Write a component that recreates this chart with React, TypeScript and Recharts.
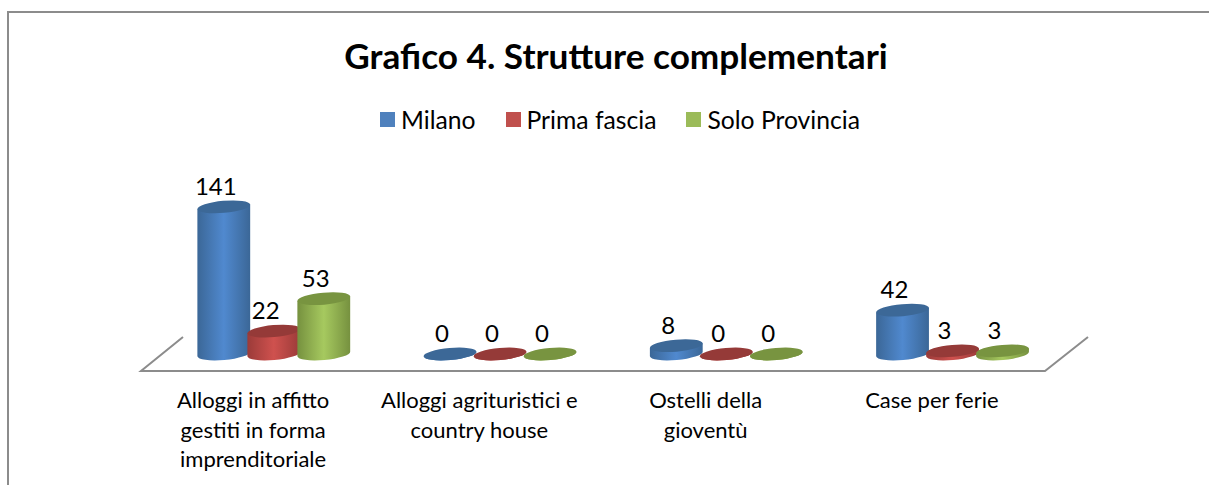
import { Bar, BarChart, LabelList, Legend, XAxis, YAxis } from 'recharts'

const categories = [
  ['Alloggi in affitto', 'gestiti in forma', 'imprenditoriale'],
  ['Alloggi agrituristici e', 'country house'],
  ['Ostelli della', 'gioventù'],
  ['Case per ferie'],
]
const milano = [141, 0, 8, 42]
const primaFascia = [22, 0, 0, 3]
const soloProvincia = [53, 0, 0, 3]

const palette: Record<string, { edge: string; mid: string; top: string; rim: string }> = {
  milano: { edge: '#3b6797', mid: '#5089cf', top: '#3c6897', rim: '#4f81bd' },
  prima: { edge: '#9b3b39', mid: '#cf514e', top: '#953a38', rim: '#c0504d' },
  solo: { edge: '#76913f', mid: '#a6c95f', top: '#789440', rim: '#9bbb59' },
}

const data = categories.map((lines, i) => ({
  name: lines.join(' '),
  milano: milano[i],
  prima: primaFascia[i],
  solo: soloProvincia[i],
}))

const FONT = 'Lato, sans-serif'
const TILT = -5

function cylinder(key: string) {
  return (props: any) => {
    const { x, y, width, height } = props
    const c = palette[key]
    const cx = x + width / 2
    const rx = width / 2 + 1.5
    const ry = 6
    const dy = rx * Math.sin((TILT * Math.PI) / 180)
    const dx = rx * Math.cos((TILT * Math.PI) / 180)
    const bottom = y + height
    const body =
      `M${cx - dx} ${y - dy} L${cx - dx} ${bottom - dy} ` +
      `A${rx} ${ry} ${TILT} 0 0 ${cx + dx} ${bottom + dy} L${cx + dx} ${y + dy} Z`
    return (
      <g>
        <path d={body} fill={`url(#grad-${key})`} />
        <ellipse cx={cx} cy={y} rx={rx} ry={ry} fill={c.top} transform={`rotate(${TILT} ${cx} ${y})`} />
      </g>
    )
  }
}

function ValueLabel(props: any) {
  const { x, y, width, value } = props
  return (
    <text x={x + width / 2 - 8} y={y - 12} textAnchor="middle" fontFamily={FONT} fontSize={24} fill="#000">
      {value}
    </text>
  )
}

function CategoryTick(props: any) {
  const { x, y, index } = props
  return (
    <text textAnchor="middle" fontFamily={FONT} fontSize={22} fill="#000">
      {categories[index].map((line, i) => (
        <tspan key={line} x={x - 21} y={y + 46 + i * 29.5}>
          {line}
        </tspan>
      ))}
    </text>
  )
}

function LegendRow(props: any) {
  return (
    <div style={{ display: 'flex', justifyContent: 'center', gap: 30, fontFamily: FONT, fontSize: 24.7 }}>
      {props.payload.map((item: any) => (
        <span key={item.value} style={{ display: 'flex', alignItems: 'center', gap: 6, color: '#000' }}>
          <span style={{ width: 15, height: 15, flexShrink: 0, background: palette[item.dataKey].rim }} />
          {item.value}
        </span>
      ))}
    </div>
  )
}

export default function App() {
  return (
    <div style={{ position: 'absolute', left: 0, top: 0, width: 1209, height: 485, background: '#fff' }}>
      <div
        style={{
          position: 'absolute',
          left: 7,
          top: 11,
          right: 0,
          bottom: 0,
          borderLeft: '2px solid #8c8c8c',
          borderTop: '2px solid #8c8c8c',
        }}
      />
      <BarChart
        width={1209}
        height={485}
        data={data}
        margin={{ top: 157, right: 143, bottom: 31, left: 161 }}
        barGap={0}
        barCategoryGap="16.7%"
        style={{ position: 'absolute', left: 0, top: 0 }}
      >
        <defs>
          {Object.keys(palette).map((key) => (
            <linearGradient key={key} id={`grad-${key}`} x1="0" x2="1" y1="0" y2="0">
              <stop offset="0" stopColor={palette[key].edge} />
              <stop offset="0.5" stopColor={palette[key].mid} />
              <stop offset="1" stopColor={palette[key].edge} />
            </linearGradient>
          ))}
        </defs>
        <text x={616} y={69} textAnchor="middle" fontFamily={FONT} fontWeight={700} fontSize={35.2} fill="#000">
          Grafico 4. Strutture complementari
        </text>
        <polyline points="183,337 141,371 1045,371 1088,337" fill="none" stroke="#8c8c8c" strokeWidth={2} />
        <XAxis dataKey="name" height={100} axisLine={false} tickLine={false} interval={0} tick={<CategoryTick />} />
        <YAxis hide domain={[0, 160]} />
        <Legend
          verticalAlign="top"
          content={<LegendRow />}
          wrapperStyle={{ top: 105, left: 0, width: 1240, height: 30 }}
        />
        <Bar dataKey="milano" name="Milano" fill="#4f81bd" isAnimationActive={false} shape={cylinder('milano')}>
          <LabelList dataKey="milano" content={<ValueLabel />} />
        </Bar>
        <Bar dataKey="prima" name="Prima fascia" fill="#c0504d" isAnimationActive={false} shape={cylinder('prima')}>
          <LabelList dataKey="prima" content={<ValueLabel />} />
        </Bar>
        <Bar dataKey="solo" name="Solo Provincia" fill="#9bbb59" isAnimationActive={false} shape={cylinder('solo')}>
          <LabelList dataKey="solo" content={<ValueLabel />} />
        </Bar>
      </BarChart>
    </div>
  )
}
